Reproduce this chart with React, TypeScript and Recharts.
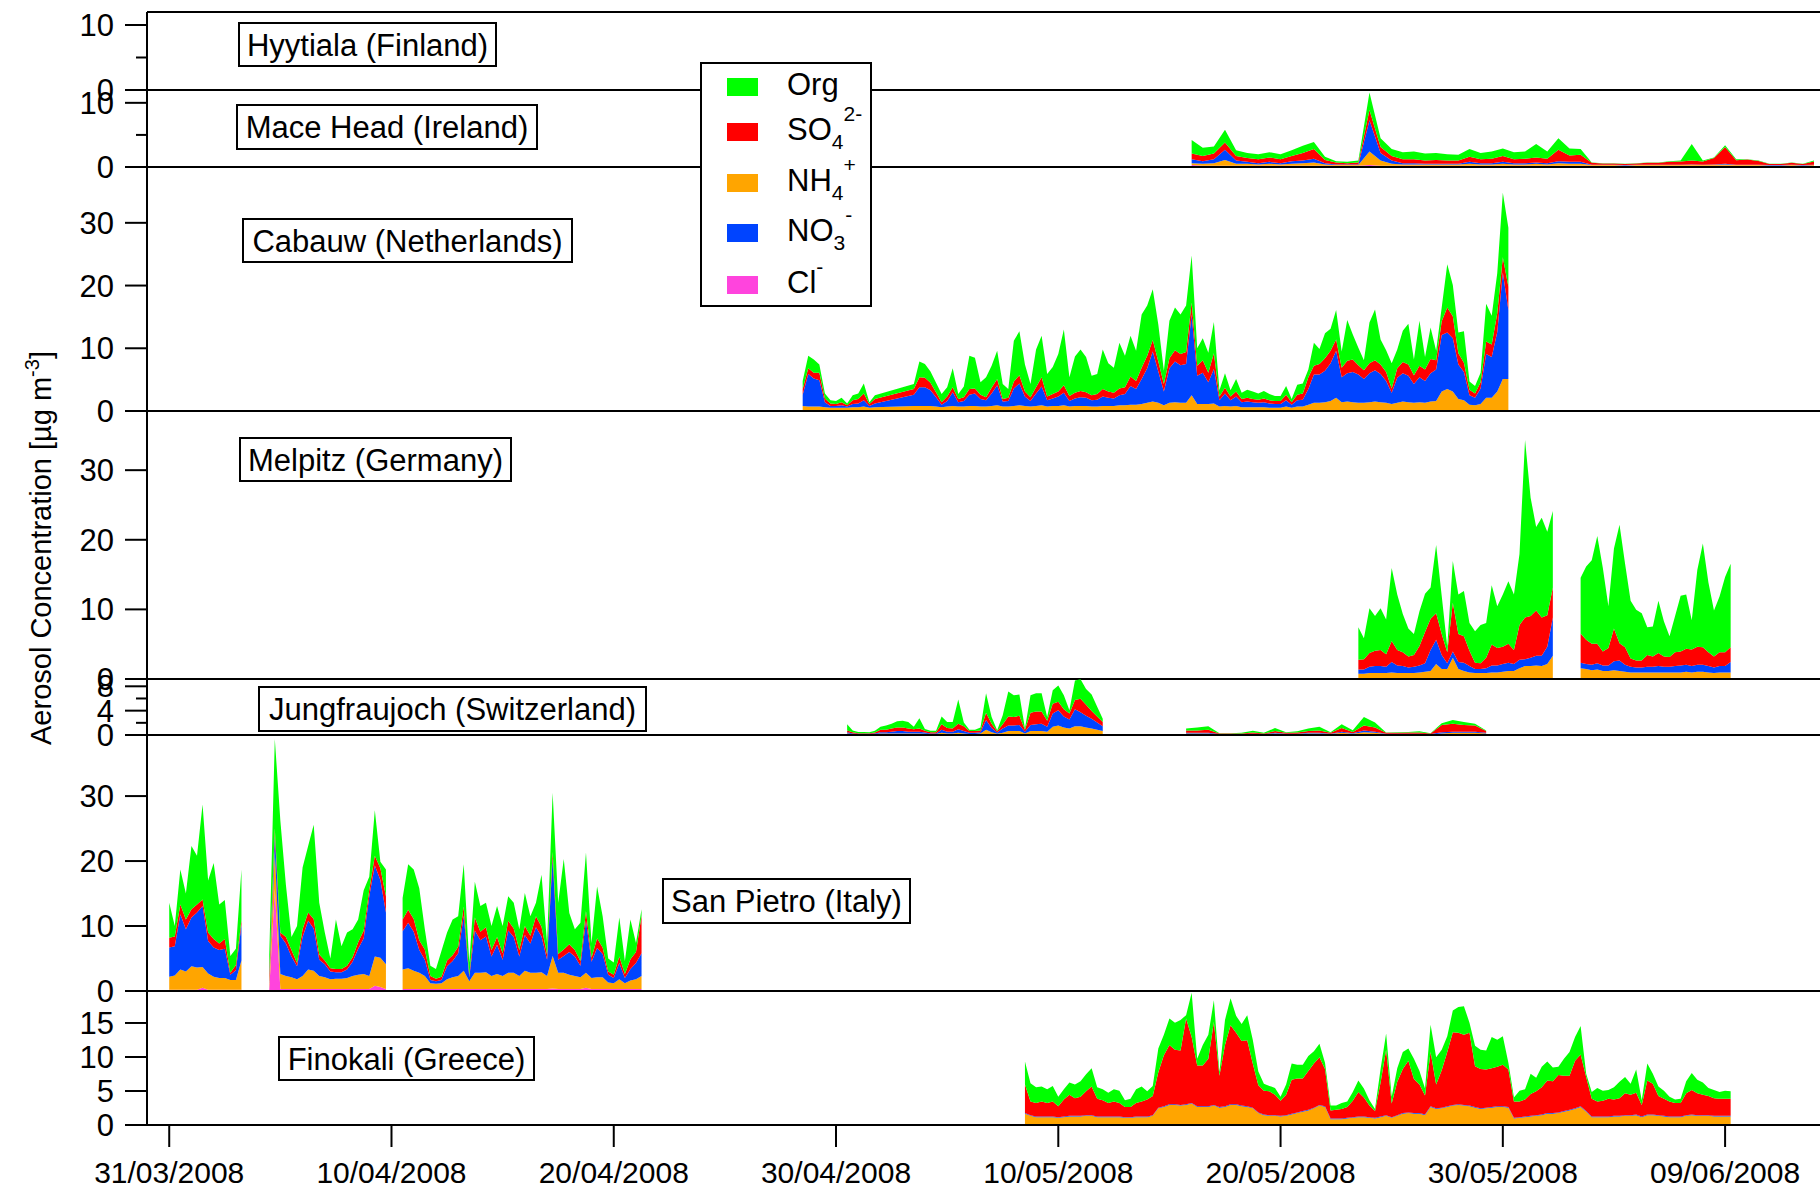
import { AreaChart, Area, XAxis, YAxis, ReferenceLine } from "recharts"

type Row = [number, number, number, number, number] // cl, nh4, no3, so4, org
type Segment = { start: number; step: number; rows: Row[]; linked?: boolean }

const FONT = "'Liberation Sans', Arial, Helvetica, sans-serif"
const WIDTH = 1820
const HEIGHT = 1189
const AXIS_W = 147
const X_DOMAIN: [number, number] = [-1, 74.27]

// bottom of the stack first, same order as the Row tuples
const species = [
  { key: "cl", color: "#ff44dd" },
  { key: "nh4", color: "#ffa500" },
  { key: "no3", color: "#0044ff" },
  { key: "so4", color: "#ff0000" },
  { key: "org", color: "#00ff00" },
]

const legendItems = [
  { key: "org", base: "Org", sub: "", sup: "" },
  { key: "so4", base: "SO", sub: "4", sup: "2-" },
  { key: "nh4", base: "NH", sub: "4", sup: "+" },
  { key: "no3", base: "NO", sub: "3", sup: "-" },
  { key: "cl", base: "Cl", sub: "", sup: "-" },
]

// days since 31/03/2008
const dateTicks = [0, 10, 20, 30, 40, 50, 60, 70]
const dateLabels = [
  "31/03/2008", "10/04/2008", "20/04/2008", "30/04/2008",
  "10/05/2008", "20/05/2008", "30/05/2008", "09/06/2008",
]

const hyytiala: Segment[] = []

const maceHead: Segment[] = [
  {
    start: 46, step: 0.5, rows: [
      [.3,.3,.6,.9,2.1],[.2,.3,.4,.8,1.3],[.2,.4,.6,.9,1.1],[.2,.9,1.6,1.1,2.0],[.2,.3,.5,.7,.9],
      [.2,.3,.3,.6,.8],[.2,.2,.2,.6,.8],[.2,.3,.3,.7,.8],[.2,.2,.2,.6,.8],[.2,.3,.4,.8,.9],
      [.2,.4,.4,1.2,1.1],[.2,.5,.6,1.5,1.1],[.2,.2,.2,.5,.5],[.2,.1,.1,.3,.2],[.2,.1,.1,.2,.2],
      [.2,.1,.1,.3,.3],[.3,2.1,4.9,1.6,2.7],[.2,.8,1.2,.9,1.4],[.2,.3,.5,.7,1.1],[.2,.2,.2,.6,1.1],
      [.2,.2,.2,.6,1.2],[.2,.2,.1,.5,1.1],[.2,.2,.1,.6,1.1],[.2,.2,.1,.5,1.0],[.2,.2,.1,.5,.9],
      [.2,.3,.3,.8,1.2],[.2,.2,.2,.6,1.0],[.2,.2,.2,.7,1.1],[.2,.3,.3,.9,1.2],[.2,.2,.2,.6,1.1],
      [.2,.2,.2,.7,1.1],[.2,.3,.2,.8,2.1],[.2,.2,.2,.7,1.1],[.2,.4,.3,1.8,1.8],[.2,.3,.3,1.0,1.1],
      [.2,.3,.3,1.1,.9],[.2,.1,.05,.3,.05],[.2,.1,.05,.2,.05],[.2,.1,.05,.2,.05],[.2,.05,.05,.15,.05],
      [.2,.1,.05,.2,.05],[.2,.1,.05,.3,.05],[.2,.1,.05,.3,.05],[.2,.1,.05,.45,.1],[.2,.1,.05,.5,.15],
      [.2,.15,.05,.6,2.6],[.2,.1,.05,.5,.15],[.2,.15,.05,1.0,.1],[.2,.2,.1,2.6,.3],[.2,.1,.05,.7,.15],
      [.2,.1,.05,.8,.05],[.2,.1,.05,.6,.05],[.2,.05,.05,.15,.05],[.2,.05,.05,.15,.05],[.2,.1,.05,.3,.05],
      [.2,.05,.05,.15,.05],[.2,.1,.05,.5,.15],
    ],
  },
]

const cabauw: Segment[] = [
  {
    start: 28.5, step: 0.25, rows: [
      [.1,.7,1.8,.9,1.3],[.1,.6,5.2,.9,2.0],[.1,.6,4.5,.9,2.1],[.1,.6,4.2,1.2,1.3],[.1,.5,.8,.6,.8],
      [.1,.4,.3,.4,.5],[.1,.4,.3,.3,.5],[.1,.4,.4,.5,.7],[.1,.4,.2,.2,.3],[.1,.5,.5,.6,.8],
      [.1,.5,.6,.7,.9],[.1,.6,1.0,1.1,1.6],[.1,.4,.3,.3,.3],[.1,.5,.6,.7,.6],
    ],
  },
  {
    start: 33.5, step: 0.25, linked: true, rows: [
      [.1,.7,1.8,.9,.8],[.1,.7,3.0,1.6,2.5],[.1,.7,3.0,1.5,2.2],[.1,.7,2.5,1.2,1.8],[.1,.6,1.5,.8,1.5],
      [.1,.5,.4,.4,1.3],[.1,.6,.9,.7,1.5],[.1,.7,2.2,.8,3.0],[.1,.6,.7,.5,.8],[.1,.6,.9,.6,1.7],
      [.1,.7,1.8,.9,5.3],[.1,.7,2.0,.8,4.9],[.1,.6,1.2,.7,2.0],[.1,.6,1.0,.5,3.2],[.1,.7,2.0,.9,3.5],
      [.1,.8,3.2,1.0,4.5],[.1,.6,.8,.4,2.4],[.1,.6,.9,.5,1.4],[.1,.7,2.8,1.1,6.5],[.1,.8,3.5,1.3,7.0],
      [.1,.7,1.5,.8,4.3],[.1,.6,.9,.6,2.1],[.1,.7,2.0,1.0,6.0],[.1,.8,3.0,1.5,6.6],[.1,.6,1.0,.6,3.6],
      [.1,.7,1.2,.7,4.3],[.1,.7,1.5,.8,6.0],[.1,.8,2.0,1.2,8.9],[.1,.6,.9,.8,3.0],[.1,.7,1.2,.9,5.8],
      [.1,.7,1.4,1.0,6.6],[.1,.7,1.3,.9,5.6],[.1,.6,1.0,.8,3.1],[.1,.6,1.1,.9,3.2],[.1,.7,1.5,1.2,6.3],
      [.1,.7,1.3,1.0,4.5],[.1,.7,1.2,.9,4.0],[.1,.8,1.6,1.1,7.3],[.1,.8,1.8,1.1,5.0],[.1,.9,3.0,1.5,6.5],
      [.1,.9,2.5,1.3,4.8],[.1,1.0,4.0,1.8,8.5],[.1,1.2,5.5,2.0,8.0],[.1,1.4,8.0,1.8,8.1],[.1,1.2,5.0,1.6,5.9],
      [.1,.8,2.2,1.2,2.1],[.1,1.2,5.5,1.6,6.0],[.1,1.3,6.5,1.8,6.8],[.1,1.2,6.0,1.8,6.3],[.1,1.2,6.2,1.9,7.4],
      [.1,2.4,12.9,1.9,7.5],[.1,1.0,4.5,1.6,2.8],[.1,1.0,5.0,2.0,3.5],[.1,1.0,3.5,1.5,3.2],[.1,1.1,5.5,2.5,5.0],
      [.1,.6,1.0,.6,1.0],[.1,.7,2.0,.9,2.3],[.1,.6,1.0,.6,1.0],[.1,.7,1.5,.8,2.0],[.1,.5,.8,.5,1.0],
      [.1,.5,.9,.6,1.3],[.1,.5,.8,.5,1.2],[.1,.5,.7,.5,1.0],[.1,.5,.8,.6,1.2],[.1,.4,.7,.5,1.0],
      [.1,.4,.6,.5,.8],[.1,.4,.6,.5,.8],[.1,.6,1.0,.9,1.4],[.1,.4,.5,.4,.5],[.1,.6,1.0,.9,1.6],
      [.1,.6,1.1,1.0,1.6],[.1,.9,2.5,1.9,1.2],[.1,1.2,4.5,1.4,3.7],[.1,1.2,4.5,1.7,2.4],[.1,1.3,5.0,2.0,4.0],
      [.1,1.5,6.0,2.0,3.5],[.1,2.0,7.5,1.8,4.7],[.1,1.3,4.0,1.5,2.6],[.1,1.4,4.5,2.0,6.5],[.1,1.3,4.8,2.0,4.0],
      [.1,1.2,4.5,1.5,2.8],[.1,1.2,3.8,1.4,1.6],[.1,1.3,4.6,1.6,6.5],[.1,1.4,5.0,1.6,8.1],[.1,1.3,4.5,1.5,4.0],
      [.1,1.2,3.5,1.4,3.5],[.1,1.0,1.8,.7,4.0],[.1,1.2,4.0,1.5,3.0],[.1,1.4,4.5,1.8,5.0],[.1,1.3,4.2,1.8,6.5],
      [.1,1.2,3.0,1.4,2.5],[.1,1.3,4.0,1.8,7.2],[.1,1.2,3.5,1.8,2.0],[.1,1.4,4.5,2.3,5.0],[.1,1.5,5.0,1.5,1.5],
      [.1,3.0,9.0,2.2,2.2],[.1,3.4,9.0,4.0,6.9],[.1,3.0,8.5,3.5,5.0],[.1,1.8,5.5,1.8,3.3],[.1,1.6,4.5,1.5,5.0],
      [.1,.9,1.5,.9,1.3],[.1,.8,1.2,.7,1.2],[.1,1.0,2.5,1.0,1.5],[.1,2.0,7.0,2.0,6.0],[.1,2.0,6.5,2.0,4.6],
      [.1,3.0,9.5,3.0,6.4],[.1,5.0,17.0,2.4,10.3],[.1,5.0,11.0,3.7,9.4],
    ],
  },
]

const melpitz: Segment[] = [
  {
    start: 53.5, step: 0.25, rows: [
      [.15,.6,.6,1.4,4.7],[.15,.6,.6,1.5,3.0],[.15,.7,.9,2.0,6.4],[.15,.7,1.0,2.2,5.0],[.15,.7,1.0,2.3,6.0],
      [.15,.7,.9,1.8,5.0],[.15,.8,1.5,3.0,10.5],[.15,.7,1.1,2.2,8.0],[.15,.7,1.0,2.0,5.5],[.15,.7,.8,1.6,4.0],
      [.15,.7,.9,1.7,3.0],[.15,.8,1.0,2.8,5.0],[.15,.9,1.2,4.5,5.5],[.15,1.0,3.0,4.5,4.5],[.15,2.0,3.5,3.8,9.8],
      [.15,1.3,2.0,3.0,5.5],[.15,1.3,.8,1.6,.8],[.15,2.9,.9,7.0,6.0],[.15,1.3,1.0,4.0,5.7],[.15,1.0,1.2,3.8,6.5],
      [.15,.8,.9,2.2,4.0],[.15,.7,.6,.9,4.5],[.15,.7,.6,.8,5.5],[.15,.7,.7,1.5,5.0],[.15,.8,1.0,3.0,8.5],
      [.15,.8,1.0,2.5,6.0],[.15,.9,1.1,2.5,7.5],[.15,1.0,1.2,2.7,9.0],[.15,1.0,1.0,2.0,8.0],[.15,1.4,1.2,5.0,10.2],
      [.15,1.7,1.0,6.0,25.5],[.15,1.7,1.2,6.0,17.0],[.15,1.8,1.4,6.5,12.0],[.15,1.7,1.5,5.5,14.3],[.15,2.0,2.5,4.5,12.0],
      [.15,3.2,5.5,4.3,11.0],
    ],
  },
  {
    start: 63.5, step: 0.25, rows: [
      [.15,1.4,.8,4.2,8.0],[.15,1.3,.7,3.5,10.5],[.15,1.1,.8,3.0,12.0],[.15,1.2,.9,2.8,15.5],[.15,1.0,.8,2.0,12.0],
      [.15,1.0,.8,2.5,6.0],[.15,1.1,1.3,4.7,11.5],[.15,1.0,1.5,2.5,17.0],[.15,.9,1.0,2.5,12.0],[.15,.8,.8,1.2,8.3],
      [.15,.8,.7,1.0,7.3],[.15,.8,.7,1.0,6.8],[.15,.8,.8,1.7,4.0],[.15,.8,.8,1.5,4.3],[.15,.8,.9,1.9,7.5],
      [.15,.8,.8,1.5,5.0],[.15,.8,.8,1.4,3.0],[.15,.8,.9,2.0,5.2],[.15,.8,1.0,2.0,8.0],[.15,.9,1.0,2.3,7.8],
      [.15,.8,.9,2.4,4.2],[.15,.9,1.0,2.6,11.0],[.15,.9,1.0,2.5,14.9],[.15,.8,.9,2.0,10.0],[.15,.7,.8,1.6,6.6],
      [.15,.8,.9,2.0,8.0],[.15,.8,.9,2.0,10.8],[.15,.8,1.5,2.1,12.0],
    ],
  },
]

const jungfraujoch: Segment[] = [
  {
    start: 30.5, step: 0.25, rows: [
      [.05,.2,.2,.3,1.0],[.05,.1,.1,.2,.3],[.05,.1,.05,.1,.2],[.05,.1,.05,.1,.2],[.05,.1,.05,.1,.15],
      [.05,.1,.1,.15,.3],[.05,.2,.2,.4,.5],[.05,.2,.2,.4,.7],[.05,.2,.3,.5,.8],[.05,.2,.4,.6,1.0],
      [.05,.2,.4,.6,1.1],[.05,.2,.3,.5,1.1],[.05,.2,.3,.4,.4],[.05,.2,.3,.5,1.7],[.05,.15,.2,.3,.3],
      [.05,.1,.1,.2,.25],[.05,.1,.1,.2,.25],[.05,.3,.5,.9,1.3],[.05,.2,.3,.6,1.0],[.05,.2,.3,.5,1.1],
      [.05,.3,.6,.9,4.0],[.05,.2,.4,.8,.6],[.05,.1,.2,.3,.2],[.05,.1,.2,.3,.2],[.05,.2,.2,.3,.5],
      [.05,.8,1.6,1.2,3.2],[.05,.4,.7,.7,1.1],[.05,.15,.2,.2,.2],[.05,.3,.7,.7,1.5],[.05,.6,.9,1.5,4.1],
      [.05,.6,.9,1.4,3.6],[.05,.6,1.0,1.5,3.5],[.05,.2,.3,.3,.2],[.05,.6,1.0,2.0,2.9],[.05,.6,1.1,2.1,3.0],
      [.05,.6,1.2,2.0,3.0],[.05,.5,.8,1.0,.6],[.05,1.3,2.2,1.6,2.2],[.05,1.5,2.5,1.4,2.7],[.05,1.2,1.8,1.2,2.3],
      [.05,1.0,1.5,1.0,.5],[.05,1.4,2.8,1.5,3.2],[.05,1.4,2.3,2.2,3.2],[.05,1.2,1.9,1.8,2.6],[.05,1.0,1.6,1.3,2.7],
      [.05,.8,1.2,1.0,1.6],[.05,.6,.8,.7,.5],
    ],
  },
  {
    start: 45.75, step: 0.5, rows: [
      [.05,.2,.1,.4,.3],[.05,.2,.1,.4,.5],[.05,.2,.1,.5,.6],[.05,.05,.05,.1,.05],[.05,.05,.05,.1,.05],
      [.05,.05,.05,.1,.1],[.05,.1,.05,.2,.3],[.05,.05,.05,.1,.1],[.05,.2,.1,.3,.5],[.05,.1,.05,.15,.1],
      [.05,.1,.05,.2,.2],[.05,.2,.1,.3,.4],[.05,.2,.1,.4,.6],[.05,.1,.05,.15,.1],[.05,.3,.2,.6,.6],
      [.05,.15,.1,.2,.3],[.05,.4,.3,.8,1.4],[.05,.3,.2,.7,.8],[.05,.1,.05,.15,.05],[.05,.1,.05,.15,.1],
      [.05,.1,.05,.2,.1],[.05,.1,.05,.2,.2],[.05,.05,.05,.1,.05],[.05,.2,.2,1.2,.3],[.05,.3,.2,1.3,.6],
      [.05,.3,.2,1.1,.5],[.05,.3,.2,1.0,.3],[.05,.2,.1,.3,.1],
    ],
  },
]

const sanPietro: Segment[] = [
  {
    start: 0, step: 0.25, rows: [
      [.2,2.0,4.5,1.5,5.4],[.2,2.2,4.5,1.5,1.6],[.2,3.1,8.5,1.5,5.4],[.2,2.8,6.5,1.5,4.0],[.2,3.6,7.5,1.3,9.7],
      [.2,3.4,8.5,1.2,7.5],[.5,3.2,9.4,1.0,14.6],[.2,2.5,5.0,1.3,8.0],[.2,2.0,4.5,1.3,11.7],[.2,1.8,4.3,1.0,6.0],
      [.2,1.8,4.5,1.5,6.0],[.2,1.5,.8,.3,2.6],[.2,1.5,1.5,.8,2.5],[.2,4.5,5.5,.7,7.8],
    ],
  },
  {
    start: 4.5, step: 0.25, rows: [
      [.2,.8,.3,1.2,2.9],[15.7,5.8,2.4,1.1,13.8],[.3,2.3,5.9,.5,17.2],[.3,2.0,5.0,1.0,8.0],[.3,1.8,3.2,1.0,2.0],
      [.3,1.5,2.0,.5,5.7],[.3,2.0,6.0,1.2,9.5],[.3,3.0,7.5,1.3,10.2],[.3,2.8,6.5,1.5,14.5],[.3,2.0,2.5,.8,8.0],
      [.3,1.8,2.0,.6,4.3],[.3,1.5,1.2,.5,1.5],[.3,1.6,1.0,.5,7.6],[.3,1.6,1.0,.5,3.5],[.3,1.7,1.3,.6,5.1],
      [.3,2.0,2.2,.7,4.3],[.3,2.2,4.0,1.0,3.5],[.3,2.3,5.5,1.2,6.2],[.3,2.0,12.3,1.0,2.0],[.8,4.5,14.0,1.5,7.0],
      [.6,4.5,12.0,1.8,1.0],[.3,3.8,8.0,2.5,4.1],
    ],
  },
  {
    start: 10.5, step: 0.25, rows: [
      [.3,3.0,5.9,1.8,3.3],[.3,3.2,7.0,2.0,7.0],[.3,2.8,6.0,2.0,7.6],[.3,2.5,3.5,1.5,8.0],[.3,2.0,2.5,1.6,3.1],
      [.3,.9,.5,.6,1.6],[.3,.8,.4,.4,1.5],[.3,.9,.5,.5,4.0],[.3,1.5,2.0,.9,4.3],[.3,1.8,2.5,.9,5.5],
      [.3,2.0,3.5,1.0,4.7],[.3,2.8,8.5,1.4,6.5],[.3,1.2,.6,.3,2.0],[.3,2.5,6.5,2.0,5.5],[.3,2.5,5.0,1.3,4.0],
      [.3,2.6,5.5,1.4,3.8],[.3,2.0,3.0,1.0,3.7],[.3,2.3,4.5,1.2,4.8],[.3,2.0,2.5,1.0,4.2],[.3,2.5,6.5,1.5,3.8],
      [.3,2.5,5.5,1.3,4.0],[.3,2.0,3.0,1.0,3.2],[.3,2.8,5.5,1.4,5.1],[.3,2.5,4.5,1.2,3.0],[.3,2.5,7.0,1.7,2.1],
      [.3,2.6,5.5,1.5,8.0],[.3,2.0,2.5,.8,1.8],[.4,5.0,15.0,1.0,9.1],[.3,2.5,2.0,.9,7.9],[.3,2.5,2.6,1.0,13.9],
      [.3,2.2,3.5,1.2,4.8],[.3,2.0,3.0,1.0,3.2],[.3,1.8,1.8,.7,5.9],[.5,2.3,8.0,1.5,9.0],[.3,1.7,2.5,.6,2.3],
      [.3,1.8,4.5,1.5,8.0],[.3,1.8,3.6,1.0,4.8],[.3,1.0,1.2,.5,2.0],[.3,.9,.8,.5,1.9],[.3,1.5,2.5,1.0,6.0],
      [.3,.9,.8,.6,2.0],[.3,1.3,1.8,1.5,6.1],[.3,1.5,2.5,1.7,1.4],[.3,2.0,3.5,5.8,1.0],
    ],
  },
]

const finokali: Segment[] = [
  {
    start: 38.5, step: 0.25, rows: [
      [.15,1.5,.1,4.2,3.4],[.15,1.2,.1,2.0,2.7],[.15,1.0,.1,2.0,2.3],[.15,1.0,.1,2.2,2.2],[.15,1.0,.1,2.0,2.0],
      [.15,1.0,.1,2.2,2.3],[.15,.9,.1,1.6,1.4],[.15,1.0,.1,2.5,1.5],[.15,1.1,.1,3.1,1.8],[.15,1.1,.1,2.6,2.0],
      [.15,1.1,.1,2.8,2.3],[.15,1.2,.1,3.5,2.5],[.15,1.2,.1,4.2,2.7],[.15,1.0,.1,2.6,1.7],[.15,1.0,.1,2.4,1.6],
      [.15,1.0,.1,2.0,1.5],[.15,1.0,.1,2.2,1.8],[.15,1.0,.1,2.0,1.8],[.15,.9,.1,1.5,1.0],[.15,.9,.1,1.5,1.2],
      [.15,1.0,.1,2.0,2.0],[.15,1.0,.1,2.2,2.2],[.15,1.0,.1,2.5,1.2],[.15,1.2,.1,2.8,1.5],[.15,2.3,.1,5.2,3.5],
      [.15,2.5,.1,7.5,3.0],[.15,2.8,.1,8.7,3.9],[.15,2.8,.1,8.0,4.0],[.15,2.7,.1,8.0,4.5],[.15,2.8,.1,12.6,.5],
      [.15,3.0,.1,9.7,6.5],[.15,2.5,.1,6.0,1.0],[.15,2.5,.1,6.0,3.0],[.15,2.5,.1,7.0,3.5],[.15,2.7,.1,12.2,3.2],
      [.15,2.4,.1,4.6,.5],[.15,2.5,.1,9.0,3.7],[.15,2.8,.1,11.6,4.0],[.15,2.8,.1,10.5,2.5],[.15,2.6,.1,9.5,2.5],
      [.15,2.5,.1,9.7,3.7],[.15,2.3,.1,6.5,3.5],[.15,1.6,.1,4.0,2.0],[.15,1.3,.1,3.5,1.0],[.15,1.2,.1,3.5,.8],
      [.15,1.2,.1,3.0,1.0],[.15,1.1,.1,2.2,.6],[.15,1.2,.1,3.0,1.5],[.15,1.4,.1,5.0,2.4],[.15,1.6,.1,5.0,2.0],
      [.15,1.8,.1,4.8,2.0],[.15,2.0,.1,5.7,2.2],[.15,2.3,.1,6.5,1.8],[.15,2.7,.1,7.0,2.0],[.15,2.5,.1,5.5,.9],
      [.15,.7,.1,1.2,.7],[.15,.7,.1,1.3,.6],[.15,.7,.1,1.4,.9],[.15,.8,.1,1.6,.8],[.15,.9,.1,2.4,1.3],
      [.15,1.0,.1,3.6,1.7],[.15,1.0,.1,2.8,1.3],[.15,.9,.1,1.7,.8],[.15,.8,.1,1.0,.3],[.15,1.0,.1,5.0,2.0],
      [.15,1.2,.1,9.6,2.4],[.15,.9,.1,2.0,1.0],[.15,1.2,.1,4.9,2.0],[.15,1.5,.1,6.5,2.5],[.15,1.6,.1,7.6,1.8],
      [.15,1.5,.1,5.0,3.0],[.15,1.5,.1,4.2,2.0],[.15,1.3,.1,2.8,1.0],[.15,2.5,.1,8.0,4.0],[.15,2.2,.1,3.5,4.0],
      [.15,2.3,.1,5.5,3.0],[.15,2.5,.1,8.0,2.3],[.15,2.7,.1,10.7,3.2],[.15,2.8,.1,10.5,3.8],[.15,2.7,.1,10.3,4.2],
      [.15,2.6,.1,10.7,1.5],[.15,2.4,.1,6.0,3.0],[.15,2.2,.1,5.8,2.8],[.15,2.3,.1,5.6,2.8],[.15,2.4,.1,5.7,4.6],
      [.15,2.5,.1,5.8,4.0],[.15,2.5,.1,6.1,4.2],[.15,2.4,.1,5.5,1.0],[.15,.8,.1,2.4,.6],[.15,.9,.1,2.3,1.6],
      [.15,1.0,.1,2.5,1.5],[.15,1.1,.1,3.2,3.0],[.15,1.2,.1,3.5,2.0],[.15,1.3,.1,4.0,3.0],[.15,1.5,.1,4.8,2.8],
      [.15,1.5,.1,4.7,2.0],[.15,1.6,.1,5.5,1.2],[.15,1.8,.1,5.2,2.5],[.15,2.0,.1,5.0,3.5],[.15,2.2,.1,7.0,3.5],
      [.15,2.5,.1,7.6,4.2],[.15,1.8,.1,5.0,.5],[.15,1.0,.1,2.6,1.0],[.15,1.0,.1,2.2,2.0],[.15,1.0,.1,2.3,1.5],
      [.15,1.0,.1,2.6,1.3],[.15,1.1,.1,2.4,1.8],[.15,1.1,.1,2.6,2.4],[.15,1.2,.1,3.2,2.4],[.15,1.2,.1,3.0,1.6],
      [.15,1.3,.1,3.2,3.4],[.15,1.0,.1,1.7,.7],[.15,1.3,.1,5.0,2.5],[.15,1.3,.1,4.5,1.5],[.15,1.2,.1,2.8,1.4],
      [.15,1.1,.1,2.5,1.2],[.15,1.0,.1,2.2,.7],[.15,1.0,.1,2.0,.5],[.15,1.0,.1,2.0,.6],[.15,1.2,.1,3.2,1.8],
      [.15,1.3,.1,3.6,2.5],[.15,1.2,.1,3.2,2.0],[.15,1.2,.1,3.0,1.8],[.15,1.2,.1,2.8,1.2],[.15,1.1,.1,2.6,1.2],
      [.15,1.1,.1,2.5,1.0],[.15,1.1,.1,2.5,1.2],[.15,1.1,.1,2.5,1.1],
    ],
  },
]

type Panel = {
  label: string
  top: number
  bottom: number
  max: number
  ticks: number[]
  major: number[]
  segments: Segment[]
  box: [number, number, number, number]
  topLine?: boolean
}

const panels: Panel[] = [
  { label: "Hyytiala (Finland)", top: 12, bottom: 90, max: 12, ticks: [0, 5, 10], major: [0, 10], segments: hyytiala, box: [239, 23, 257, 43], topLine: true },
  { label: "Mace Head (Ireland)", top: 90, bottom: 167, max: 12, ticks: [0, 5, 10], major: [0, 10], segments: maceHead, box: [237, 105, 300, 44] },
  { label: "Cabauw (Netherlands)", top: 167, bottom: 411, max: 38.9, ticks: [0, 10, 20, 30], major: [0, 10, 20, 30], segments: cabauw, box: [243, 219, 329, 43] },
  { label: "Melpitz (Germany)", top: 411, bottom: 679, max: 38.5, ticks: [0, 10, 20, 30], major: [0, 10, 20, 30], segments: melpitz, box: [240, 438, 271, 43] },
  { label: "Jungfraujoch (Switzerland)", top: 679, bottom: 735, max: 9.2, ticks: [0, 2, 4, 6, 8], major: [0, 4, 8], segments: jungfraujoch, box: [259, 687, 387, 44] },
  { label: "San Pietro (Italy)", top: 735, bottom: 991, max: 39.4, ticks: [0, 10, 20, 30], major: [0, 10, 20, 30], segments: sanPietro, box: [663, 879, 247, 44] },
  { label: "Finokali (Greece)", top: 991, bottom: 1125, max: 19.7, ticks: [0, 5, 10, 15], major: [0, 5, 10, 15], segments: finokali, box: [279, 1037, 255, 43] },
]

function toPoint(t: number, r: Row) {
  return { t, cl: r[0], nh4: r[1], no3: r[2], so4: r[3], org: r[4] }
}

const ZERO: Row = [0, 0, 0, 0, 0]

// zero rows at the segment ends give the vertical edges of the data gaps
function buildRows(segments: Segment[]) {
  const out: ReturnType<typeof toPoint>[] = []
  segments.forEach((seg, si) => {
    const next = segments[si + 1]
    if (!seg.linked) out.push(toPoint(seg.start, ZERO))
    seg.rows.forEach((r, i) => out.push(toPoint(seg.start + i * seg.step, r)))
    if (!(next && next.linked)) {
      out.push(toPoint(seg.start + (seg.rows.length - 1) * seg.step, ZERO))
    }
  })
  return out
}

function valueTick(major: number[]) {
  return (props: any) => {
    const { x, y, payload } = props
    const isMajor = major.includes(payload.value)
    return (
      <g>
        <line x1={x - (isMajor ? 22 : 11)} x2={x} y1={y} y2={y} stroke="#000" strokeWidth={2} />
        {isMajor && (
          <text x={x - 33} y={y + 11} textAnchor="end" fontSize={31} fontFamily={FONT} fill="#000">
            {payload.value}
          </text>
        )}
      </g>
    )
  }
}

function dateTick(props: any) {
  const { x, y, payload } = props
  const i = dateTicks.indexOf(payload.value)
  return (
    <g>
      <line x1={x} x2={x} y1={y} y2={y + 22} stroke="#000" strokeWidth={2} />
      <text x={x} y={y + 58} textAnchor="middle" fontSize={30} fontFamily={FONT} fill="#000">
        {dateLabels[i]}
      </text>
    </g>
  )
}

function PanelChart({ p, isBottom }: { p: Panel; isBottom: boolean }) {
  const padTop = 20
  const padBottom = isBottom ? 64 : 20
  const h = p.bottom - p.top
  return (
    <div style={{ position: "absolute", left: 0, top: p.top - padTop }}>
      <AreaChart
        width={WIDTH}
        height={h + padTop + padBottom}
        data={buildRows(p.segments)}
        margin={{ top: padTop, right: 0, bottom: isBottom ? 0 : padBottom, left: 0 }}
      >
        <XAxis
          type="number"
          dataKey="t"
          domain={X_DOMAIN}
          allowDataOverflow
          hide={!isBottom}
          height={isBottom ? padBottom : 0}
          ticks={dateTicks}
          interval={0}
          tick={dateTick}
          tickLine={false}
          tickSize={0}
          tickMargin={0}
          axisLine={false}
        />
        <YAxis
          type="number"
          domain={[0, p.max]}
          allowDataOverflow
          width={AXIS_W}
          ticks={p.ticks}
          interval={0}
          tick={valueTick(p.major)}
          tickLine={false}
          tickSize={0}
          tickMargin={0}
          axisLine={{ stroke: "#000", strokeWidth: 2 }}
        />
        {species.map((s) => (
          <Area
            key={s.key}
            type="linear"
            dataKey={s.key}
            stackId="a"
            stroke="none"
            fill={s.color}
            fillOpacity={1}
            dot={false}
            activeDot={false}
            isAnimationActive={false}
          />
        ))}
        <ReferenceLine y={0} stroke="#000" strokeWidth={2} />
        {p.topLine && <ReferenceLine y={p.max} stroke="#000" strokeWidth={2} />}
      </AreaChart>
    </div>
  )
}

function Overlay() {
  const rowBase = [95, 140, 191, 241, 293]
  const colorOf = (k: string) => species.find((s) => s.key === k)!.color
  return (
    <svg
      width={WIDTH}
      height={HEIGHT}
      style={{ position: "absolute", left: 0, top: 0, pointerEvents: "none" }}
      fontFamily={FONT}
    >
      {panels.map((p) => {
        const [bx, by, bw, bh] = p.box
        return (
          <g key={p.label}>
            <rect x={bx} y={by} width={bw} height={bh} fill="#fff" stroke="#000" strokeWidth={2} />
            <text x={bx + bw / 2} y={by + bh / 2 + 11} textAnchor="middle" fontSize={31} fill="#000">
              {p.label}
            </text>
          </g>
        )
      })}

      <text transform="translate(51,548) rotate(-90)" textAnchor="middle" fontSize={29} fill="#000">
        Aerosol Concentration [µg m
        <tspan dy={-12} fontSize={20}>-3</tspan>
        <tspan dy={12}>]</tspan>
      </text>

      <rect x={701} y={63} width={170} height={243} fill="#fff" stroke="#000" strokeWidth={2} />
      {legendItems.map((it, i) => (
        <g key={it.key}>
          <rect x={727} y={rowBase[i] - 17} width={31} height={18} fill={colorOf(it.key)} />
          <text x={787} y={rowBase[i]} fontSize={31} fill="#000">
            {it.base}
            {it.sub && <tspan dy={9} fontSize={21}>{it.sub}</tspan>}
            {it.sup && <tspan dy={it.sub ? -28 : -19} fontSize={21}>{it.sup}</tspan>}
          </text>
        </g>
      ))}
    </svg>
  )
}

export default function App() {
  return (
    <div style={{ position: "absolute", left: 0, top: 0, width: WIDTH, height: HEIGHT, background: "#fff", overflow: "hidden" }}>
      {panels.map((p, i) => (
        <PanelChart key={p.label} p={p} isBottom={i === panels.length - 1} />
      ))}
      <Overlay />
    </div>
  )
}
